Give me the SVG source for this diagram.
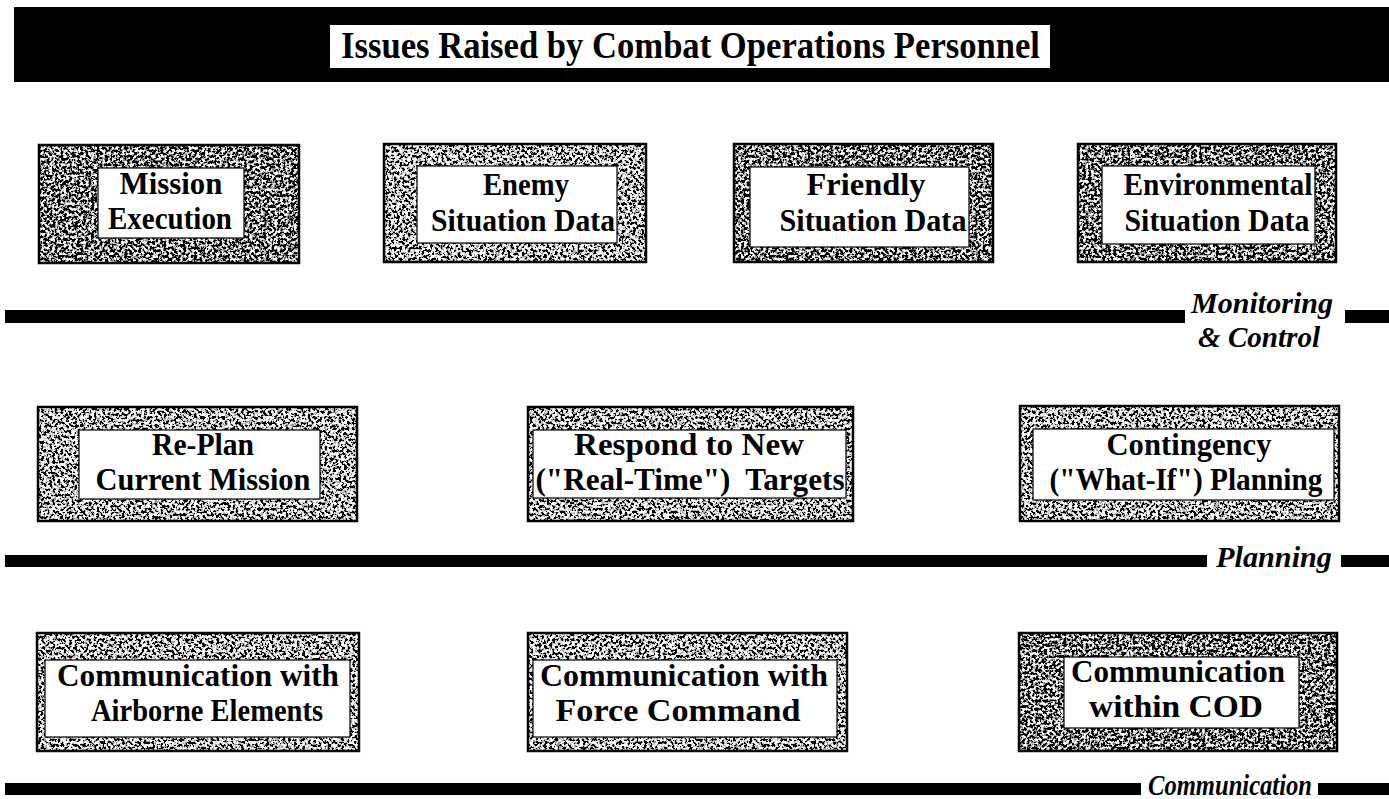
<svg xmlns="http://www.w3.org/2000/svg" width="1389" height="799" viewBox="0 0 1389 799">
  <defs>
    <!-- speckled halftone fill used for the box frames -->
    <filter id="grainLight" x="0" y="0" width="1" height="1" filterUnits="objectBoundingBox" color-interpolation-filters="sRGB">
      <feTurbulence type="fractalNoise" baseFrequency="0.36" numOctaves="3" seed="7" result="n"/>
      <feColorMatrix in="n" type="matrix" values="1 0 0 0 0  1 0 0 0 0  1 0 0 0 0  0 0 0 0 1" result="g"/>
      <feComponentTransfer in="g">
        <feFuncR type="linear" slope="4" intercept="-1.5"/>
        <feFuncG type="linear" slope="4" intercept="-1.5"/>
        <feFuncB type="linear" slope="4" intercept="-1.5"/>
      </feComponentTransfer>
      <feComponentTransfer>
        <feFuncR type="discrete" tableValues="0 0.6 0.85 1"/>
        <feFuncG type="discrete" tableValues="0 0.6 0.85 1"/>
        <feFuncB type="discrete" tableValues="0 0.6 0.85 1"/>
      </feComponentTransfer>
    </filter>
    <filter id="grainDark" x="0" y="0" width="1" height="1" filterUnits="objectBoundingBox" color-interpolation-filters="sRGB">
      <feTurbulence type="fractalNoise" baseFrequency="0.36" numOctaves="3" seed="11" result="n"/>
      <feColorMatrix in="n" type="matrix" values="1 0 0 0 0  1 0 0 0 0  1 0 0 0 0  0 0 0 0 1" result="g"/>
      <feComponentTransfer in="g">
        <feFuncR type="linear" slope="4" intercept="-1.62"/>
        <feFuncG type="linear" slope="4" intercept="-1.62"/>
        <feFuncB type="linear" slope="4" intercept="-1.62"/>
      </feComponentTransfer>
      <feComponentTransfer>
        <feFuncR type="discrete" tableValues="0 0.5 0.78 1"/>
        <feFuncG type="discrete" tableValues="0 0.5 0.78 1"/>
        <feFuncB type="discrete" tableValues="0 0.5 0.78 1"/>
      </feComponentTransfer>
    </filter>
  </defs>
  <style>
    .edge { fill: none; stroke: #000; stroke-width: 2.5; }
    .inner { fill: #fff; stroke: #000; stroke-width: 1.2; }
    .lbl { font-family: "Liberation Serif", "DejaVu Serif", serif; font-weight: bold; font-size: 31px; fill: #000; text-anchor: middle; }
    .cat { font-family: "Liberation Serif", "DejaVu Serif", serif; font-weight: bold; font-style: italic; font-size: 29px; fill: #000; }
    .title { font-family: "Liberation Serif", "DejaVu Serif", serif; font-weight: bold; font-size: 38px; fill: #000; }
    .rule { fill: #000; }
  </style>

  <rect width="1389" height="799" fill="#fff"/>

  <!-- heading band -->
  <g id="header">
    <rect x="14" y="7" width="1375" height="75" fill="#000"/>
    <rect x="330" y="25" width="720" height="43" fill="#fff"/>
    <text class="title" x="341" y="58" textLength="699" lengthAdjust="spacingAndGlyphs">Issues Raised by Combat Operations Personnel</text>
  </g>

  <!-- category separator rules with their labels -->
  <g id="separators">
    <rect class="rule" x="5" y="310" width="1180" height="13"/>
    <rect class="rule" x="1345" y="310" width="44" height="13"/>
    <text class="cat" x="1191" y="313" textLength="142" lengthAdjust="spacingAndGlyphs">Monitoring</text>
    <text class="cat" x="1198" y="347" textLength="122" lengthAdjust="spacingAndGlyphs">&amp; Control</text>

    <rect class="rule" x="5" y="555" width="1202" height="12"/>
    <rect class="rule" x="1341" y="555" width="48" height="12"/>
    <text class="cat" x="1216" y="567" textLength="116" lengthAdjust="spacingAndGlyphs">Planning</text>

    <rect class="rule" x="5" y="783" width="1136" height="12"/>
    <rect class="rule" x="1318" y="783" width="71" height="12"/>
    <text class="cat" x="1148" y="795" textLength="164" lengthAdjust="spacingAndGlyphs">Communication</text>
  </g>

  <!-- Monitoring & Control row -->
  <g id="mission-execution">
    <rect x="39" y="145" width="260" height="118" filter="url(#grainDark)"/>
    <rect class="edge" x="39" y="145" width="260" height="118"/>
    <rect class="inner" x="98" y="168" width="146" height="70"/>
    <text class="lbl" x="171" y="194" textLength="103" lengthAdjust="spacingAndGlyphs">Mission</text>
    <text class="lbl" x="170" y="229" textLength="124" lengthAdjust="spacingAndGlyphs">Execution</text>
  </g>
  <g id="enemy-situation">
    <rect x="384" y="144" width="262" height="118" filter="url(#grainLight)"/>
    <rect class="edge" x="384" y="144" width="262" height="118"/>
    <rect class="inner" x="417" y="166" width="200" height="77"/>
    <text class="lbl" x="526" y="195" textLength="86" lengthAdjust="spacingAndGlyphs">Enemy</text>
    <text class="lbl" x="523" y="231" textLength="184" lengthAdjust="spacingAndGlyphs">Situation Data</text>
  </g>
  <g id="friendly-situation">
    <rect x="734" y="144" width="259" height="118" filter="url(#grainDark)"/>
    <rect class="edge" x="734" y="144" width="259" height="118"/>
    <rect class="inner" x="750" y="167" width="219" height="80"/>
    <text class="lbl" x="866" y="195" textLength="119" lengthAdjust="spacingAndGlyphs">Friendly</text>
    <text class="lbl" x="873" y="231" textLength="187" lengthAdjust="spacingAndGlyphs">Situation Data</text>
  </g>
  <g id="environmental-situation">
    <rect x="1078" y="144" width="258" height="118" filter="url(#grainDark)"/>
    <rect class="edge" x="1078" y="144" width="258" height="118"/>
    <rect class="inner" x="1102" y="166" width="213" height="78"/>
    <text class="lbl" x="1218" y="195" textLength="189" lengthAdjust="spacingAndGlyphs">Environmental</text>
    <text class="lbl" x="1217" y="231" textLength="185" lengthAdjust="spacingAndGlyphs">Situation Data</text>
  </g>

  <!-- Planning row -->
  <g id="replan-mission">
    <rect x="38" y="407" width="319" height="114" filter="url(#grainLight)"/>
    <rect class="edge" x="38" y="407" width="319" height="114"/>
    <rect class="inner" x="79" y="430" width="241" height="69"/>
    <text class="lbl" x="203" y="455" textLength="102" lengthAdjust="spacingAndGlyphs">Re-Plan</text>
    <text class="lbl" x="203" y="490" textLength="215" lengthAdjust="spacingAndGlyphs">Current Mission</text>
  </g>
  <g id="respond-targets">
    <rect x="528" y="407" width="325" height="114" filter="url(#grainLight)"/>
    <rect class="edge" x="528" y="407" width="325" height="114"/>
    <rect class="inner" x="533" y="430" width="313" height="68"/>
    <text class="lbl" x="689" y="455" textLength="230" lengthAdjust="spacingAndGlyphs">Respond to New</text>
    <text class="lbl" x="690" y="490" textLength="309" lengthAdjust="spacingAndGlyphs" xml:space="preserve">("Real-Time")  Targets</text>
  </g>
  <g id="contingency-planning">
    <rect x="1020" y="406" width="319" height="115" filter="url(#grainLight)"/>
    <rect class="edge" x="1020" y="406" width="319" height="115"/>
    <rect class="inner" x="1033" y="429" width="301" height="71"/>
    <text class="lbl" x="1189" y="455" textLength="165" lengthAdjust="spacingAndGlyphs">Contingency</text>
    <text class="lbl" x="1186" y="490" textLength="273" lengthAdjust="spacingAndGlyphs">("What-If") Planning</text>
  </g>

  <!-- Communication row -->
  <g id="comm-airborne">
    <rect x="37" y="633" width="322" height="118" filter="url(#grainLight)"/>
    <rect class="edge" x="37" y="633" width="322" height="118"/>
    <rect class="inner" x="45" y="660" width="305" height="77"/>
    <text class="lbl" x="198" y="686" textLength="282" lengthAdjust="spacingAndGlyphs">Communication with</text>
    <text class="lbl" x="207" y="721" textLength="232" lengthAdjust="spacingAndGlyphs">Airborne Elements</text>
  </g>
  <g id="comm-force">
    <rect x="528" y="633" width="319" height="118" filter="url(#grainLight)"/>
    <rect class="edge" x="528" y="633" width="319" height="118"/>
    <rect class="inner" x="533" y="660" width="304" height="77"/>
    <text class="lbl" x="684" y="686" textLength="288" lengthAdjust="spacingAndGlyphs">Communication with</text>
    <text class="lbl" x="678" y="721" textLength="245" lengthAdjust="spacingAndGlyphs">Force Command</text>
  </g>
  <g id="comm-cod">
    <rect x="1019" y="633" width="318" height="118" filter="url(#grainDark)"/>
    <rect class="edge" x="1019" y="633" width="318" height="118"/>
    <rect class="inner" x="1064" y="657" width="235" height="71"/>
    <text class="lbl" x="1178" y="682" textLength="214" lengthAdjust="spacingAndGlyphs">Communication</text>
    <text class="lbl" x="1176" y="717" textLength="174" lengthAdjust="spacingAndGlyphs">within COD</text>
  </g>
</svg>
